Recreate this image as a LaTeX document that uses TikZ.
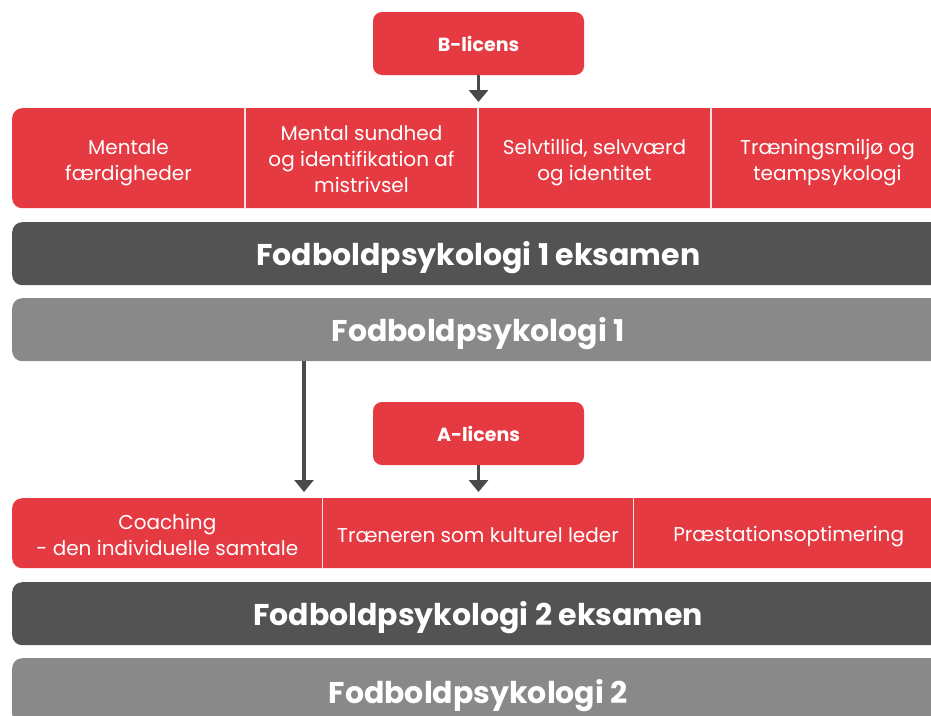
\documentclass[tikz,border=0pt]{standalone}
\usepackage{fontspec}
\setmainfont{Poppins}
\usepackage{tikz}
\usetikzlibrary{positioning,calc,arrows.meta}
\definecolor{licred}{HTML}{E53A42}
\definecolor{exambar}{HTML}{535353}
\definecolor{coursebar}{HTML}{898989}
\definecolor{arrowgray}{HTML}{4A4A4A}

\begin{document}
\begin{tikzpicture}[
        x=1pt, y=-1pt,
        every node/.style={text=white, inner sep=0pt},
        licbox/.style={rectangle, fill=licred, rounded corners=9pt, minimum width=211pt, minimum height=63pt, font=\fontsize{19}{22}\selectfont\bfseries},
        band/.style={rectangle, rounded corners=10pt, minimum width=932pt, anchor=north west},
        topic/.style={rectangle, align=center, font=\fontsize{20}{26}\selectfont},
        bar/.style={band, minimum height=63pt, text depth=0pt, font=\fontsize{30}{34}\selectfont\bfseries},
        divider/.style={draw=white!85!licred, line width=1.3pt},
        arrow/.style={-{Triangle[width=19pt,length=12pt]}, line width=3.6pt, draw=arrowgray, shorten >=6pt}
        ]
        \clip (0,0) rectangle (931,715);
        \fill[white] (0,0) rectangle (931,715);

        % B-licens block
        \node[licbox] (blic) at (478.5,43.5) {B-licens};
        \node[band, fill=licred, minimum height=100pt] (row1) at (12,108) {};
        \node[topic] (t11) at (128.5,162.5) {Mentale\\færdigheder};
        \node[topic] (t12) at (361.5,159) {Mental sundhed\\og identifikation af\\mistrivsel};
        \node[topic] (t13) at (594.5,162.5) {Selvtillid, selvværd\\og identitet};
        \node[topic] (t14) at (827.5,162.5) {Træningsmiljø og\\teampsykologi};
        \foreach \a/\b in {t11/t12,t12/t13,t13/t14} {
            \coordinate (gap) at ($(\a)!0.5!(\b)$);
            \draw[divider] (gap |- row1.north) -- (gap |- row1.south);
        }

        \node[bar, fill=exambar] (exam1) at (12,222) {Fodboldpsykologi 1 eksamen};
        \node[bar, fill=coursebar] (fp1) at (12,298) {Fodboldpsykologi 1};

        % A-licens block
        \node[licbox] (alic) at (478.5,433.5) {A-licens};
        \node[band, fill=licred, minimum height=70pt] (row2) at (12,498) {};
        \node[topic] (t21) at (167.3,535) {Coaching\\- den individuelle samtale};
        \node[topic] (t22) at (478,535) {Træneren som kulturel leder};
        \node[topic] (t23) at (788.7,537) {Præstationsoptimering};
        \foreach \a/\b in {t21/t22,t22/t23} {
            \coordinate (gap) at ($(\a)!0.5!(\b)$);
            \draw[divider] (gap |- row2.north) -- (gap |- row2.south);
        }

        \node[bar, fill=exambar] (exam2) at (12,582) {Fodboldpsykologi 2 eksamen};
        \node[bar, fill=coursebar, minimum height=66pt] (fp2) at (12,658) {Fodboldpsykologi 2};

        % Connections
        \draw[arrow] (blic.south) -- (blic.south |- row1.north);
        \draw[arrow] (alic.south) -- (alic.south |- row2.north);
        \draw[arrow] ([xshift=292pt]row2.north west |- fp1.south) -- ([xshift=292pt]row2.north west);

\end{tikzpicture}
\end{document}
